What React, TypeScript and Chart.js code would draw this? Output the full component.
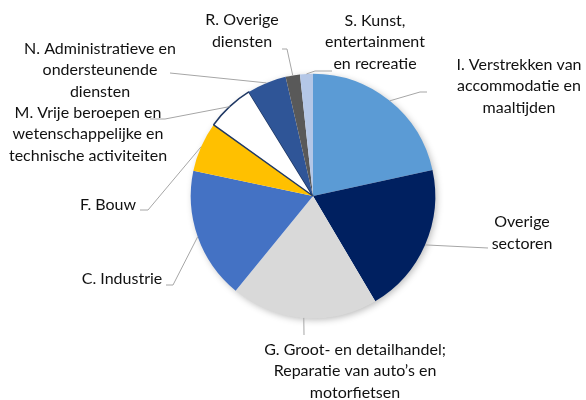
import React, { useEffect, useRef } from "react";
import { Chart, registerables } from "chart.js";

Chart.register(...registerables);

const categories: string[][] = [
  ["I. Verstrekken van", "accommodatie en", "maaltijden"],
  ["Overige", "sectoren"],
  ["G. Groot- en detailhandel;", "Reparatie van auto’s en", "motorfietsen"],
  ["C. Industrie"],
  ["F. Bouw"],
  ["M. Vrije beroepen en", "wetenschappelijke en", "technische activiteiten"],
  ["N. Administratieve en", "ondersteunende", "diensten"],
  ["R. Overige", "diensten"],
  ["S. Kunst,", "entertainment", "en recreatie"],
];

const shares: number[] = [21.6, 19.9, 19.4, 17.4, 6.6, 6.3, 5.2, 1.9, 1.7];

const colors: string[] = [
  "#5B9BD5",
  "#002060",
  "#D9D9D9",
  "#4472C4",
  "#FFC000",
  "#FFFFFF",
  "#2F5597",
  "#595959",
  "#B4C7E7",
];

// label layout: text centre, leader elbow and end, as offsets from the pie centre
type LabelLayout = { tx: number; ty: number; ex: number; ey: number; bx?: number; by?: number };
const labelLayout: LabelLayout[] = [
  { tx: 206, ty: -110, bx: 107, by: -104, ex: 114, ey: -104 },
  { tx: 209, ty: 37, ex: 175, ey: 52 },
  { tx: 42, ty: 175, ex: -9, ey: 139 },
  { tx: -191, ty: 83, bx: -140, by: 89, ex: -147, ey: 89 },
  { tx: -205, ty: 9, bx: -165, by: 14, ex: -173, ey: 14 },
  { tx: -225, ty: -62, bx: -148, by: -77, ex: -163, ey: -77 },
  { tx: -213, ty: -126, ex: -143, ey: -123 },
  { tx: -71, ty: -165, bx: -26, by: -147, ex: -31, ey: -147 },
  { tx: 62, ty: -154, bx: 2, by: -125, ex: 19, ey: -125 },
];

const FONT = '16px "Lato", "Noto Sans", sans-serif';
const LINE_H = 21.5;

const shadowPlugin = {
  id: "pieShadow",
  beforeDatasetsDraw(chart: any) {
    const meta = chart.getDatasetMeta(0);
    const arc = meta.data[0];
    if (!arc) return;
    const { x, y, outerRadius } = arc.getProps(["x", "y", "outerRadius"], true);
    const ctx = chart.ctx;
    ctx.save();
    ctx.shadowColor = "rgba(0,0,0,0.28)";
    ctx.shadowBlur = 7;
    ctx.shadowOffsetX = 2;
    ctx.shadowOffsetY = 2;
    ctx.fillStyle = "#ffffff";
    ctx.beginPath();
    ctx.arc(x, y, outerRadius - 0.5, 0, Math.PI * 2);
    ctx.fill();
    ctx.restore();
  },
};

const labelPlugin = {
  id: "leaderLabels",
  afterDatasetsDraw(chart: any) {
    const meta = chart.getDatasetMeta(0);
    const ctx = chart.ctx;
    ctx.save();
    meta.data.forEach((el: any, i: number) => {
      const p = el.getProps(["x", "y", "startAngle", "endAngle", "outerRadius"], true);
      const mid = (p.startAngle + p.endAngle) / 2;
      const sx = p.x + Math.cos(mid) * p.outerRadius;
      const sy = p.y + Math.sin(mid) * p.outerRadius;
      const L = labelLayout[i];
      ctx.strokeStyle = "#A6A6A6";
      ctx.lineWidth = 1;
      ctx.beginPath();
      ctx.moveTo(sx, sy);
      if (L.bx !== undefined && L.by !== undefined) ctx.lineTo(p.x + L.bx, p.y + L.by);
      ctx.lineTo(p.x + L.ex, p.y + L.ey);
      ctx.stroke();

      const lines = categories[i];
      ctx.fillStyle = "#111111";
      ctx.font = FONT;
      ctx.textAlign = "center";
      ctx.textBaseline = "middle";
      const top = p.y + L.ty - ((lines.length - 1) * LINE_H) / 2;
      lines.forEach((t, k) => ctx.fillText(t, p.x + L.tx, top + k * LINE_H));
    });
    ctx.restore();
  },
};

export default function App() {
  const ref = useRef<HTMLCanvasElement | null>(null);
  useEffect(() => {
    document.body.style.margin = "0";
    const canvas = ref.current;
    if (!canvas) return;
    const chart = new Chart(canvas, {
      type: "pie",
      data: {
        labels: categories.map((l) => l.join(" ")),
        datasets: [
          {
            data: shares,
            backgroundColor: colors,
            borderColor: colors.map((c) => (c === "#FFFFFF" ? "#1F3864" : c)),
            borderWidth: shares.map((_, i) => (colors[i] === "#FFFFFF" ? 1.5 : 0)),
            hoverOffset: 0,
            offset: 0,
          },
        ],
      },
      options: {
        responsive: false,
        animation: false,
        events: [],
        layout: { padding: { left: 190, right: 150, top: 73, bottom: 81 } },
        plugins: {
          legend: { display: false },
          tooltip: { enabled: false },
          title: { display: false },
        },
      },
      plugins: [shadowPlugin, labelPlugin],
    });
    return () => chart.destroy();
  }, []);
  return (
    <div style={{ width: 586, height: 400, background: "#fff" }}>
      <canvas ref={ref} width={586} height={400} style={{ display: "block" }} />
    </div>
  );
}
